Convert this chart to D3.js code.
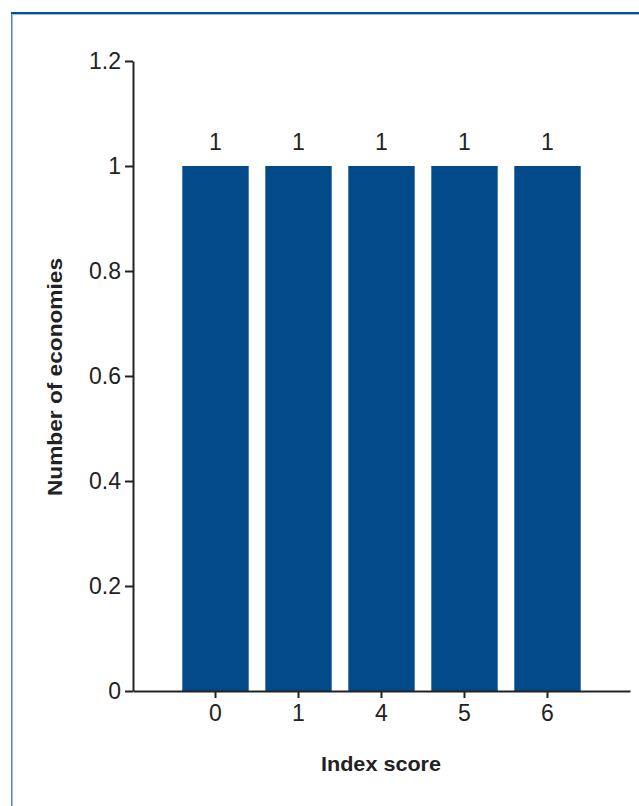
<!DOCTYPE html>
<html>
<head>
<meta charset="utf-8">
<script src="https://cdn.jsdelivr.net/npm/d3@7"></script>
<style>
  html, body { margin: 0; padding: 0; background: #fff; }
  svg { display: block; }
  text { font-family: "Liberation Sans", Arial, sans-serif; fill: #222; }
</style>
</head>
<body>
<svg id="chart" width="639" height="806"></svg>
<script>
const categories = ["0", "1", "4", "5", "6"];
const values = [1, 1, 1, 1, 1];
const yTicks = [0, 0.2, 0.4, 0.6, 0.8, 1, 1.2];
const xTitle = "Index score";
const yTitle = "Number of economies";

const svg = d3.select("#chart");
const W = 639, H = 806;

// frame
svg.append("rect").attr("x", 11).attr("y", 13).attr("width", 1.5).attr("height", H - 13).attr("fill", "#4f86c2");
svg.append("rect").attr("x", 11).attr("y", 12).attr("width", W - 11).attr("height", 2).attr("fill", "#0a4f92");
svg.append("rect").attr("x", 12.5).attr("y", 14).attr("width", W - 12.5).attr("height", 1).attr("fill", "#9bbde0");

const x = d3.scaleBand().domain(categories).range([133, 630]).paddingInner(0.2).paddingOuter(0.594);
const y = d3.scaleLinear().domain([0, 1.2]).range([691, 61]);

svg.append("g").selectAll("rect").data(categories).join("rect")
  .attr("x", d => x(d))
  .attr("width", x.bandwidth())
  .attr("y", (d, i) => y(values[i]))
  .attr("height", (d, i) => y(0) - y(values[i]))
  .attr("fill", "#034a8b");

svg.append("g").selectAll("text").data(categories).join("text")
  .attr("x", d => x(d) + x.bandwidth() / 2)
  .attr("y", (d, i) => y(values[i]) - 16)
  .attr("text-anchor", "middle")
  .style("font-size", "23px")
  .text((d, i) => d3.format("d")(values[i]));

const yAxis = svg.append("g").attr("transform", "translate(133,0)")
  .call(d3.axisLeft(y).tickValues(yTicks).tickFormat(d3.format("~g")).tickSize(8).tickSizeOuter(0).tickPadding(4));
const xAxis = svg.append("g").attr("transform", "translate(0,691)")
  .call(d3.axisBottom(x).tickSize(7).tickSizeOuter(0).tickPadding(7));

[yAxis, xAxis].forEach(g => {
  g.selectAll("path, line").attr("stroke", "#222").attr("stroke-width", 2);
  g.selectAll("text").style("font-size", "23px").style("font-family", "'Liberation Sans', Arial, sans-serif").attr("fill", "#222");
});

svg.append("text")
  .attr("x", 381).attr("y", 771)
  .attr("text-anchor", "middle")
  .style("font-size", "21px").style("font-weight", "bold")
  .attr("textLength", 120).attr("lengthAdjust", "spacingAndGlyphs")
  .text(xTitle);

svg.append("text")
  .attr("transform", "translate(62,377) rotate(-90)")
  .attr("text-anchor", "middle")
  .style("font-size", "21px").style("font-weight", "bold")
  .attr("textLength", 238).attr("lengthAdjust", "spacingAndGlyphs")
  .text(yTitle);
</script>
</body>
</html>
